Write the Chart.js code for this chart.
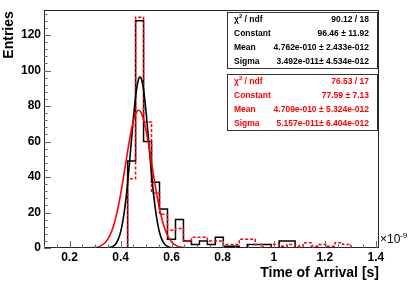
<!DOCTYPE html>
<html>
<head>
<meta charset="utf-8">
<script src="https://cdn.jsdelivr.net/npm/chart.js@4"></script>
<style>
html,body{margin:0;padding:0;background:#fff;}
#c{display:block;}
</style>
</head>
<body>
<canvas id="c" width="415" height="281"></canvas>
<script>
// ---- data ----
const xTickVals = [0.2, 0.4, 0.6, 0.8, 1.0, 1.2, 1.4];
const yTickVals = [0, 20, 40, 60, 80, 100, 120];
const xMin = 0.1, xMax = 1.4125, yMax = 134;
const binFirstEdge = 0.4276;
const binWidth = 0.03125;
const blackCounts = [49,128,60,37,22,5,16,4,2,4,2,6,1,1,0,2,2,2,0,4,4,0,0,0,0,0,0,0,0,0,0,0];
const redCounts   = [39,130,71,31,19,10,11,4,6,6,4,4,2,2,5,5,2,0,2,1,2,1,3,1,2,1,3,2,0,0,0,0];
const fitX      = [0.1,0.30,0.32,0.34,0.35,0.36,0.37,0.38,0.39,0.40,0.41,0.42,0.43,0.44,0.45,0.46,0.47,0.475,0.48,0.49,0.50,0.51,0.52,0.53,0.54,0.55,0.56,0.57,0.58,0.60,0.62,0.64,0.66,0.70,1.4125];
const blackFitY = [0,0,0,0.05,0.14,0.38,0.95,2.17,4.58,8.93,16.0,26.4,40.2,56.3,72.8,86.6,94.95,96.4,95.9,89.2,76.5,60.4,43.9,29.4,18.2,10.3,5.41,2.62,1.16,0.18,0.02,0,0,0,0];
const redFitY   = [0,0.32,1.07,3.10,4.97,7.68,11.43,16.4,22.66,30.2,38.6,47.7,56.6,64.8,71.5,75.9,77.58,77.34,76.4,72.4,66.2,58.2,49.4,40.2,31.6,23.9,17.5,12.29,8.31,3.40,1.19,0.36,0.09,0,0];
const blackStats = [["χ2 / ndf","90.12 / 18"],["Constant","96.46 ± 11.92"],["Mean","4.762e-010 ± 2.433e-012"],["Sigma","3.492e-011± 4.534e-012"]];
const redStats   = [["χ2 / ndf","76.53 / 17"],["Constant","77.59 ± 7.13"],["Mean","4.709e-010 ± 5.324e-012"],["Sigma","5.157e-011± 6.404e-012"]];

function histPoints(counts){
  const pts = [{x:xMin, y:0}];
  counts.forEach((c,i)=>pts.push({x: binFirstEdge + i*binWidth, y:c}));
  pts.push({x: binFirstEdge + counts.length*binWidth, y:0});
  pts.push({x: xMax, y:0});
  return pts;
}
function fitPoints(ys){ return fitX.map((x,i)=>({x:x, y:ys[i]})); }

const FONT = "'Liberation Sans', Arial, Helvetica, sans-serif";

const overlay = {
  id:'overlay',
  afterDatasetsDraw(chart){
    const ctx = chart.ctx, a = chart.chartArea;
    const xs = chart.scales.x, ys = chart.scales.y;
    ctx.save();
    // frame
    ctx.strokeStyle = '#222'; ctx.lineWidth = 1;
    ctx.strokeRect(Math.round(a.left)+0.5, Math.round(a.top)+0.5, Math.round(a.right-a.left)-1, Math.round(a.bottom-a.top)-1);
    // ticks
    ctx.strokeStyle = '#666';
    ctx.beginPath();
    for (let v = 0; v <= yMax; v += 4){
      const y = Math.round(ys.getPixelForValue(v))+0.5;
      const len = (v % 20 === 0) ? 7 : 3.5;
      ctx.moveTo(a.left, y); ctx.lineTo(a.left+len, y);
    }
    for (let k = 2; k <= 28; k++){
      const v = k*0.05;
      const x = Math.round(xs.getPixelForValue(v))+0.5;
      const len = (k % 4 === 0) ? 7 : 3.5;
      ctx.moveTo(x, a.bottom); ctx.lineTo(x, a.bottom-len);
    }
    ctx.stroke();
    // axis titles
    ctx.fillStyle = '#000';
    ctx.font = "bold 14px " + FONT;
    ctx.textAlign = 'right'; ctx.textBaseline = 'alphabetic';
    ctx.fillText('Time of Arrival [s]', a.right, 277);
    ctx.save();
    ctx.translate(13, a.top+1);
    ctx.rotate(-Math.PI/2);
    ctx.textAlign = 'right';
    ctx.fillText('Entries', 0, 0);
    ctx.restore();
    // x10^-9
    ctx.textAlign = 'left';
    ctx.font = "12px " + FONT;
    ctx.fillText('×10', a.right+1, 243);
    ctx.font = "8px " + FONT;
    ctx.fillText('-9', a.right+21, 238);
    // stat boxes
    drawBox(ctx, 227, 12, 150, 56, blackStats, '#000');
    drawBox(ctx, 227, 74, 150, 56, redStats, '#ff0000');
    ctx.restore();
  }
};

function drawBox(ctx, x, y, w, h, rows, color){
  ctx.fillStyle = '#fff';
  ctx.fillRect(x, y, w, h);
  ctx.strokeStyle = '#333'; ctx.lineWidth = 1;
  ctx.strokeRect(x+0.5, y+0.5, w, h);
  ctx.fillStyle = color;
  ctx.textBaseline = 'middle';
  rows.forEach((r,i)=>{
    const cy = y + 7.5 + 14*i;
    const label = r[0];
    ctx.textAlign = 'left';
    ctx.font = "bold 8.5px " + FONT;
    if (label.startsWith('χ2')){
      ctx.fillText('χ', x+7, cy);
      const w1 = ctx.measureText('χ').width;
      ctx.font = "bold 6px " + FONT;
      ctx.fillText('2', x+7+w1, cy-3);
      const w2 = ctx.measureText('2').width;
      ctx.font = "bold 8.5px " + FONT;
      ctx.fillText(' / ndf', x+7+w1+w2, cy);
    } else {
      ctx.fillText(label, x+7, cy);
    }
    ctx.textAlign = 'right';
    ctx.fillText(r[1], x+w-8, cy);
  });
}

new Chart(document.getElementById('c'), {
  type: 'line',
  data: {
    datasets: [
      {data: fitPoints(redFitY), borderColor:'#ff0000', borderWidth:1.6, pointRadius:0, cubicInterpolationMode:'monotone', order:0},
      {data: fitPoints(blackFitY), borderColor:'#000', borderWidth:1.6, pointRadius:0, cubicInterpolationMode:'monotone', order:1},
      {data: histPoints(redCounts), borderColor:'#ff0000', borderWidth:1.5, borderDash:[3,2], pointRadius:0, stepped:'before', order:2},
      {data: histPoints(blackCounts), borderColor:'#000', borderWidth:1.5, pointRadius:0, stepped:'before', order:3}
    ]
  },
  options: {
    responsive:false, animation:false, devicePixelRatio:1,
    layout:{padding:{top:2, right:36, left:0, bottom:0}},
    plugins:{legend:{display:false}, tooltip:{enabled:false}},
    scales:{
      x:{type:'linear', min:xMin, max:xMax,
         grid:{display:false, drawTicks:false}, border:{display:false},
         ticks:{font:{family:FONT, size:12, weight:'bold'}, color:'#000', padding:2, maxRotation:0, autoSkip:false,
                callback:(v)=> (Math.round(v*10)/10).toString()},
         afterBuildTicks:(s)=>{ s.ticks = xTickVals.map(v=>({value:v})); },
         afterFit:(s)=>{ s.height = 33; }},
      y:{min:0, max:yMax,
         grid:{display:false, drawTicks:false}, border:{display:false},
         ticks:{font:{family:FONT, size:12, weight:'bold'}, color:'#000', padding:3},
         afterBuildTicks:(s)=>{ s.ticks = yTickVals.map(v=>({value:v})); },
         afterFit:(s)=>{ s.width = 44; }}
    }
  },
  plugins:[overlay]
});
</script>
</body>
</html>
